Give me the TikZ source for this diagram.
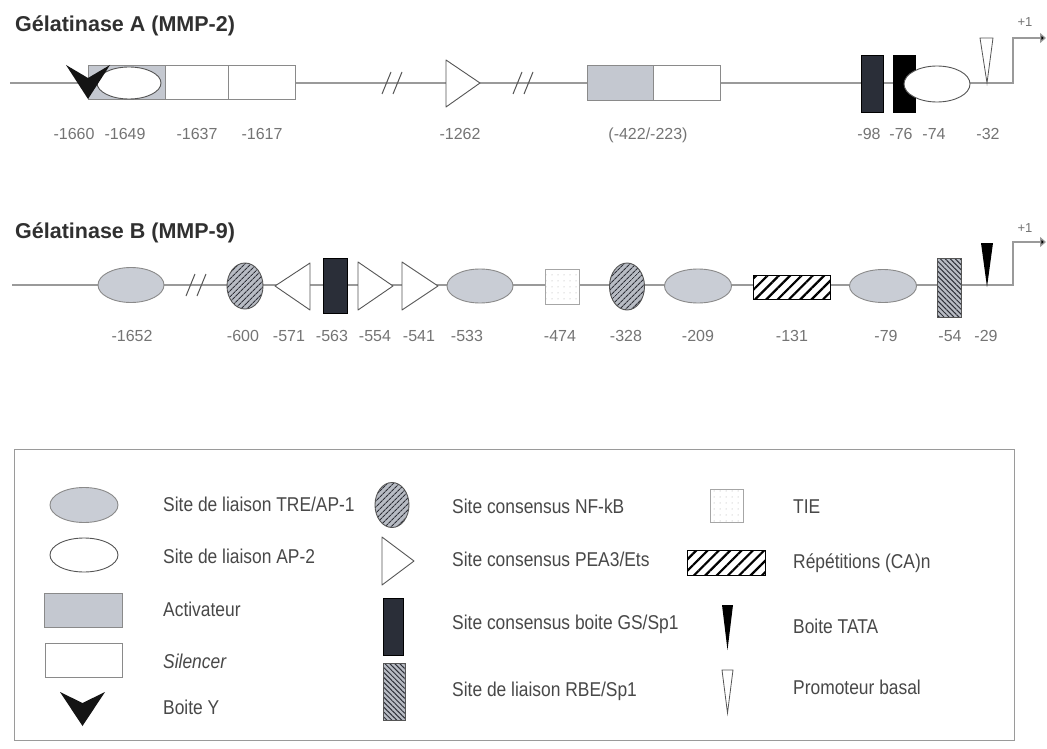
\documentclass[tikz,border=0pt]{standalone}
\usepackage{fontspec}
\setmainfont{Liberation Sans}
\newfontfamily\narrowsans[FakeStretch=0.87]{Liberation Sans}
\usetikzlibrary{shapes.geometric,patterns.meta,arrows.meta}

\definecolor{linegray}{HTML}{9A9A9A}
\definecolor{edgegray}{HTML}{8A8A8A}
\definecolor{darkedge}{HTML}{555555}
\definecolor{tregray}{HTML}{C9CDD5}
\definecolor{actgray}{HTML}{C4C8D0}
\definecolor{hatchgray}{HTML}{B8BCC4}
\definecolor{hatchdark}{HTML}{2E3038}
\definecolor{gsdark}{HTML}{2A2E38}
\definecolor{txtgray}{HTML}{747474}
\definecolor{legtextc}{HTML}{484848}
\definecolor{titleblack}{HTML}{303030}

\begin{document}
\begin{tikzpicture}[x=1pt,y=-1pt,
  backbone/.style={draw=linegray,line width=1.3pt},
  elem/.style={draw=edgegray,line width=0.9pt,inner sep=0pt,outer sep=0pt},
  tre/.style={elem,ellipse,fill=tregray},
  aptwo/.style={elem,ellipse,fill=white,draw=darkedge},
  act/.style={elem,rectangle,fill=actgray},
  sil/.style={elem,rectangle,fill=white},
  nfkb/.style={elem,ellipse,draw=darkedge,preaction={fill=hatchgray},
    pattern={Lines[angle=45,distance=4pt,line width=1.1pt]},pattern color=hatchdark},
  gsbox/.style={elem,rectangle,fill=gsdark,draw=black},
  blackbox/.style={elem,rectangle,fill=black,draw=black},
  rbe/.style={elem,rectangle,draw=darkedge,preaction={fill=hatchgray},
    pattern={Lines[angle=-45,distance=3.5pt,line width=1pt]},pattern color=hatchdark},
  cabox/.style={elem,rectangle,draw=black,preaction={fill=white},
    pattern={Lines[angle=45,distance=8pt,line width=2.2pt]},pattern color=black},
  tiebox/.style={elem,rectangle,draw=gray!70,preaction={fill=white},
    pattern={Dots[distance=6pt,radius=0.5pt]},pattern color=gray!70},
  pea/.style={draw=darkedge,line width=0.9pt,fill=white,line join=round},
  ybox/.style={fill=black!92},
  tata/.style={fill=black},
  basal/.style={draw=darkedge,fill=white,line width=0.8pt},
  brk/.style={draw=darkedge,line width=1pt},
  poslabel/.style={text=txtgray,font=\fontsize{16}{18}\selectfont,inner sep=0pt,
    text height=11.5pt,text depth=0pt},
  plusone/.style={text=txtgray,font=\fontsize{13}{15}\selectfont,inner sep=0pt},
  gtitle/.style={font=\fontsize{21.5}{25}\selectfont\bfseries,text=titleblack,
    anchor=base west,inner sep=0pt},
  legtext/.style={font=\narrowsans\fontsize{20}{24}\selectfont,text=legtextc,
    anchor=west,inner sep=0pt,text height=13pt,text depth=0pt},
  legframe/.style={draw=linegray,line width=1pt},
  tss/.style={backbone,-{Triangle[length=6pt,width=10pt,fill=black]}}
]
\useasboundingbox (0,0) rectangle (1047,749);
\fill[white] (0,0) rectangle (1047,749);

% ---------------- Gelatinase A (MMP-2) ----------------
\node[gtitle] (titleA) at (15,32) {Gélatinase A (MMP-2)};

\coordinate (a0) at (10,83);
\coordinate (a1) at (1013,83);
\coordinate (a2) at (1046,38);
\draw[tss] (a0) -- (a1) |- (a2);
\node[plusone] (plusA) at (1025,22) {+1};

% upstream activator / silencer block
\node[act,minimum width=77pt,minimum height=34pt] (actA1) at (126.5,82) {};
\node[sil,minimum width=63pt,minimum height=34pt] (silA1) at (196.5,82) {};
\node[sil,minimum width=67pt,minimum height=34pt] (silA2) at (261.5,82) {};
\node[aptwo,minimum width=64pt,minimum height=32pt] (aptwoA1) at (129,83) {};
% Y box
\coordinate (yA1) at (66,65);
\coordinate (yA2) at (88,78);
\coordinate (yA3) at (110,65);
\coordinate (yA4) at (88,99);
\fill[ybox] (yA1) -- (yA2) -- (yA3) -- (yA4) -- cycle;

% sequence breaks
\draw[brk] (382,94) -- (391,72) (393,94) -- (402,72);
\draw[brk] (513,94) -- (522,72) (524,94) -- (533,72);

% PEA3/Ets site
\coordinate (peaA1) at (446,60);
\coordinate (peaA2) at (446,107);
\coordinate (peaA3) at (480,83);
\draw[pea] (peaA1) -- (peaA3) -- (peaA2) -- cycle;

% proximal activator / silencer
\node[act,minimum width=66pt,minimum height=35pt] (actA2) at (620,82.5) {};
\node[sil,minimum width=67pt,minimum height=35pt] (silA3) at (686.5,82.5) {};

% GC boxes and AP-2 site
\node[gsbox,minimum width=22pt,minimum height=57pt] (gsA1) at (872,83.5) {};
\node[blackbox,minimum width=22pt,minimum height=57pt] (gsA2) at (904,83.5) {};
\node[aptwo,minimum width=66pt,minimum height=36pt] (aptwoA2) at (937,84) {};

% basal promoter
\coordinate (bpA1) at (980,38);
\coordinate (bpA2) at (993,38);
\coordinate (bpA3) at (987,83);
\draw[basal] (bpA1) -- (bpA2) -- (bpA3) -- cycle;

% positions
\node[poslabel] (pA1) at (74,134) {-1660};
\node[poslabel] (pA2) at (125,134) {-1649};
\node[poslabel] (pA3) at (197,134) {-1637};
\node[poslabel] (pA4) at (262,134) {-1617};
\node[poslabel] (pA5) at (460,134) {-1262};
\node[poslabel] (pA6) at (648,134) {(-422/-223)};
\node[poslabel] (pA7) at (869,134) {-98};
\node[poslabel] (pA8) at (901,134) {-76};
\node[poslabel] (pA9) at (934,134) {-74};
\node[poslabel] (pA10) at (988,134) {-32};

% ---------------- Gelatinase B (MMP-9) ----------------
\node[gtitle] (titleB) at (15,238) {Gélatinase B (MMP-9)};

\coordinate (b0) at (12,285);
\coordinate (b1) at (1013,285);
\coordinate (b2) at (1046,242);
\draw[tss] (b0) -- (b1) |- (b2);
\node[plusone] (plusB) at (1025,228) {+1};

\node[tre,minimum width=66pt,minimum height=35pt] (treB1) at (131,285) {};
\draw[brk] (186,296) -- (195,274) (197,296) -- (206,274);
\node[nfkb,minimum width=36pt,minimum height=46pt] (nfB1) at (245,286) {};

\coordinate (peaB1) at (310,263);
\coordinate (peaB2) at (310,310);
\coordinate (peaB3) at (275,286);
\draw[pea] (peaB1) -- (peaB3) -- (peaB2) -- cycle;

\node[gsbox,minimum width=24pt,minimum height=55pt] (gsB) at (335,285.5) {};

\coordinate (peaB4) at (358,262);
\coordinate (peaB5) at (358,310);
\coordinate (peaB6) at (393,286);
\draw[pea] (peaB4) -- (peaB6) -- (peaB5) -- cycle;
\coordinate (peaB7) at (402,262);
\coordinate (peaB8) at (402,310);
\coordinate (peaB9) at (438,286);
\draw[pea] (peaB7) -- (peaB9) -- (peaB8) -- cycle;

\node[tre,minimum width=66pt,minimum height=34pt] (treB2) at (480,286) {};
\node[tiebox,minimum width=34pt,minimum height=35pt] (tieB) at (562,286.5) {};
\node[nfkb,minimum width=35pt,minimum height=47pt] (nfB2) at (627,286.5) {};
\node[tre,minimum width=67pt,minimum height=34pt] (treB3) at (698,286) {};
\node[cabox,minimum width=77pt,minimum height=24pt] (caB) at (791.5,287) {};
\node[tre,minimum width=67pt,minimum height=33pt] (treB4) at (883,286) {};
\node[rbe,minimum width=24pt,minimum height=59pt] (rbeB) at (949,287.5) {};

\coordinate (tataB1) at (981,243);
\coordinate (tataB2) at (993,243);
\coordinate (tataB3) at (987,287);
\fill[tata] (tataB1) -- (tataB2) -- (tataB3) -- cycle;

\node[poslabel] (pB1) at (132,336) {-1652};
\node[poslabel] (pB2) at (243,336) {-600};
\node[poslabel] (pB3) at (289,336) {-571};
\node[poslabel] (pB4) at (332,336) {-563};
\node[poslabel] (pB5) at (375,336) {-554};
\node[poslabel] (pB6) at (419,336) {-541};
\node[poslabel] (pB7) at (467,336) {-533};
\node[poslabel] (pB8) at (560,336) {-474};
\node[poslabel] (pB9) at (626,336) {-328};
\node[poslabel] (pB10) at (698,336) {-209};
\node[poslabel] (pB11) at (792,336) {-131};
\node[poslabel] (pB12) at (886,336) {-79};
\node[poslabel] (pB13) at (950,336) {-54};
\node[poslabel] (pB14) at (986,336) {-29};

% ---------------- Legend ----------------
\coordinate (lg0) at (14,449);
\coordinate (lg1) at (1014,740);
\draw[legframe] (lg0) rectangle (lg1);

% first column
\node[tre,minimum width=68pt,minimum height=35pt] (kTre) at (84,505) {};
\node[legtext] (tTre) at (163,505) {Site de liaison TRE/AP-1};
\node[aptwo,minimum width=68pt,minimum height=34pt] (kAp) at (84,555) {};
\node[legtext] (tAp) at (163,557) {Site de liaison AP-2};
\node[act,minimum width=78pt,minimum height=34pt] (kAct) at (83,610) {};
\node[legtext] (tAct) at (163,610) {Activateur};
\node[sil,minimum width=77pt,minimum height=34pt] (kSil) at (83.5,660) {};
\node[legtext] (tSil) at (163,662) {\itshape Silencer};
\coordinate (kY1) at (60,692);
\coordinate (kY2) at (82.5,703);
\coordinate (kY3) at (105,692);
\coordinate (kY4) at (82.5,726);
\fill[ybox] (kY1) -- (kY2) -- (kY3) -- (kY4) -- cycle;
\node[legtext] (tY) at (163,708) {Boite Y};

% second column
\node[nfkb,minimum width=34pt,minimum height=45pt] (kNf) at (392,505) {};
\node[legtext] (tNf) at (452,507) {Site consensus NF-kB};
\coordinate (kP1) at (382,537);
\coordinate (kP2) at (382,585);
\coordinate (kP3) at (414,561);
\draw[pea] (kP1) -- (kP3) -- (kP2) -- cycle;
\node[legtext] (tP) at (452,560) {Site consensus PEA3/Ets};
\node[gsbox,minimum width=20pt,minimum height=57pt] (kGs) at (393,626.5) {};
\node[legtext] (tGs) at (452,623) {Site consensus boite GS/Sp1};
\node[rbe,minimum width=22pt,minimum height=57pt] (kRbe) at (394,691.5) {};
\node[legtext] (tRbe) at (452,690) {Site de liaison RBE/Sp1};

% third column
\node[tiebox,minimum width=33pt,minimum height=33pt] (kTie) at (726.5,506) {};
\node[legtext] (tTie) at (793,507) {TIE};
\node[cabox,minimum width=78pt,minimum height=25pt] (kCa) at (726,562.5) {};
\node[legtext] (tCa) at (793,562) {Répétitions (CA)n};
\coordinate (kT1) at (722,605);
\coordinate (kT2) at (733,605);
\coordinate (kT3) at (727.5,650);
\fill[tata] (kT1) -- (kT2) -- (kT3) -- cycle;
\node[legtext] (tTata) at (793,627) {Boite TATA};
\coordinate (kB1) at (722,670);
\coordinate (kB2) at (733,670);
\coordinate (kB3) at (727.5,713);
\draw[basal] (kB1) -- (kB2) -- (kB3) -- cycle;
\node[legtext] (tBasal) at (793,688) {Promoteur basal};
\end{tikzpicture}
\end{document}
